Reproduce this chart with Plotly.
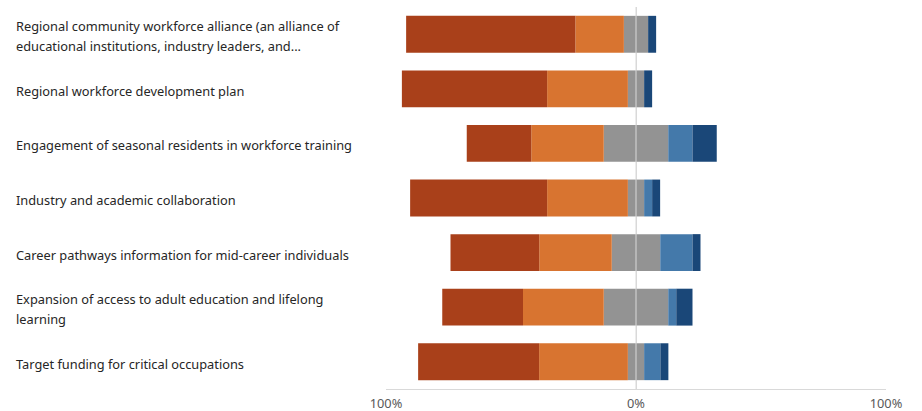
import plotly.graph_objects as go

# Survey items, top to bottom (\n marks a line break in the label)
categories = [
    "Regional community workforce alliance (an alliance of\neducational institutions, industry leaders, and...",
    "Regional workforce development plan",
    "Engagement of seasonal residents in workforce training",
    "Industry and academic collaboration",
    "Career pathways information for mid-career individuals",
    "Expansion of access to adult education and lifelong\nlearning",
    "Target funding for critical occupations",
]

# Share of responses (%) per item
strongly_disagree = [67.7, 58.1, 25.8, 54.8, 35.5, 32.3, 48.4]
disagree = [19.4, 32.3, 29.0, 32.3, 29.0, 32.3, 35.5]
neutral = [9.7, 6.5, 25.8, 6.5, 19.4, 25.8, 6.5]
agree = [0.0, 0.0, 9.7, 3.2, 12.9, 3.2, 6.5]
strongly_agree = [3.2, 3.2, 9.7, 3.2, 3.2, 6.5, 3.2]

tick_values = [-100, 0, 100]
tick_labels = ["100%", "0%", "100%"]

colors = {
    "sd": "#A9401A",
    "d": "#D87430",
    "n": "#939393",
    "a": "#4479AA",
    "sa": "#1A4778",
}

ids = list(range(len(categories)))

fig = go.Figure()

def add(values, color, sign=1.0, scale=1.0):
    fig.add_trace(go.Bar(
        y=ids,
        x=[sign * v * scale for v in values],
        orientation="h",
        marker=dict(color=color, line=dict(width=0)),
        hoverinfo="skip",
        showlegend=False,
    ))

# Negative side stacks outward from zero in trace order
add(neutral, colors["n"], -1, 0.5)
add(disagree, colors["d"], -1)
add(strongly_disagree, colors["sd"], -1)
# Positive side
add(neutral, colors["n"], 1, 0.5)
add(agree, colors["a"], 1)
add(strongly_agree, colors["sa"], 1)

# Category labels as left-aligned text, one annotation per line
left_px = 386
plot_w = 500
label_x = (14 - left_px) / plot_w
line_gap = 20
font_family = "Noto Sans, Open Sans, sans-serif"
for i, label in enumerate(categories):
    lines = label.split("\n")
    n = len(lines)
    for j, line in enumerate(lines):
        shift = ((n - 1) / 2 - j) * line_gap - 2
        fig.add_annotation(
            x=label_x, xref="paper", y=i, yref="y",
            text=line, showarrow=False, xanchor="left", yanchor="middle",
            yshift=shift,
            font=dict(family=font_family, size=12.8, color="#262626"),
        )

# Zero line drawn over the bars
fig.add_shape(type="line", x0=0, x1=0, xref="x", y0=0, y1=1, yref="paper",
              line=dict(color="#D9D9D9", width=1), layer="above")

fig.update_layout(
    width=922, height=411,
    margin=dict(l=left_px, r=922 - left_px - plot_w, t=7, b=22),
    barmode="relative",
    bargap=0.324,
    plot_bgcolor="white",
    paper_bgcolor="white",
    xaxis=dict(
        range=[-100, 100],
        tickvals=tick_values,
        ticktext=tick_labels,
        showgrid=True, gridcolor="#D9D9D9", gridwidth=1,
        zeroline=False,
        showline=True, linecolor="#D9D9D9", linewidth=1,
        ticks="", ticklabelstandoff=3,
        automargin=False,
        tickfont=dict(family=font_family, size=12.8, color="#595959"),
        fixedrange=True,
    ),
    yaxis=dict(
        range=[len(categories) - 0.5, -0.5],
        showticklabels=False,
        showgrid=False, zeroline=False,
        fixedrange=True,
    ),
)

fig.write_html("out.html")
